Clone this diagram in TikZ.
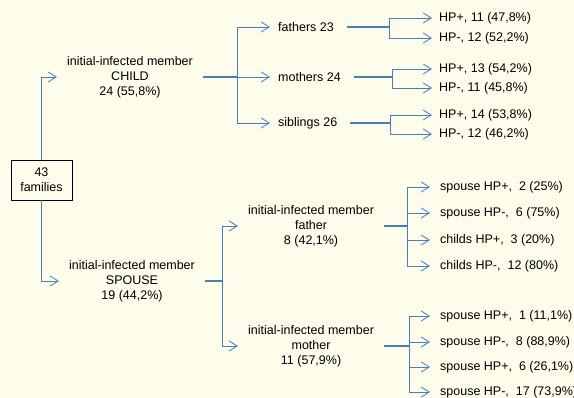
\documentclass[tikz,border=0pt]{standalone}
\usepackage{fontspec}
\setmainfont{Liberation Sans}
\usetikzlibrary{positioning,arrows.meta}

\definecolor{paper}{RGB}{254,252,235}
\definecolor{linkblue}{RGB}{74,126,187}

\begin{document}
\begin{tikzpicture}[x=1pt,y=-1pt,
  font=\fontsize{12.5}{15}\selectfont,
  famsbox/.style={draw=black, line width=0.8pt, minimum width=61pt, minimum height=40pt, align=center, inner sep=0pt},
  midtext/.style={align=center, inner xsep=10pt, inner ysep=1pt},
  leaftext/.style={anchor=west, inner xsep=8pt, inner ysep=1pt},
  stub/.style={draw=linkblue, line width=1.6pt},
  link/.style={draw=linkblue, line width=0.8pt, -{Straight Barb[length=8pt,width=10pt]}}]

\useasboundingbox[fill=paper] (0,0) rectangle (574,398);

\def\xj{237}
\def\xk{432}
\def\xl{430}

% root and first level
\node[famsbox] (fam) at (41.5,180) {43\\families};
\node[midtext] (child) at (130,77) {initial-infected member\\CHILD\\24 (55,8\%)};
\node[midtext] (spouse) at (132,281) {initial-infected member\\SPOUSE\\19 (44,2\%)};

\draw[link] (fam.north) |- (child.west);
\draw[link] (fam.south) |- (spouse.west);

% child branch
\node[leaftext] (fathers) at (270,27) {fathers 23};
\node[leaftext] (mothers) at (270,77) {mothers 24};
\node[leaftext] (siblings) at (270,123) {siblings 26};

\coordinate (cj) at (\xj,77);
\draw[stub] (child.east) -- (cj);
\foreach \n in {fathers,mothers,siblings}
  \draw[link] (cj) |- (\n.west);

\node[leaftext, inner xsep=7pt] (fhpp) at (\xk,18) {HP+, 11 (47,8\%)};
\node[leaftext, inner xsep=7pt] (fhpm) at (\xk,38) {HP-, 12 (52,2\%)};
\node[leaftext, inner xsep=7pt] (mhpp) at (\xk,69) {HP+, 13 (54,2\%)};
\node[leaftext, inner xsep=7pt] (mhpm) at (\xk,88) {HP-, 11 (45,8\%)};
\node[leaftext, inner xsep=7pt] (shpp) at (\xk,115) {HP+, 14 (53,8\%)};
\node[leaftext, inner xsep=7pt] (shpm) at (\xk,134) {HP-, 12 (46,2\%)};

\coordinate (fj) at (389,27);
\coordinate (mj) at (392,77);
\coordinate (sj) at (390,123);
\draw[stub, shorten <=5pt] (fathers.east) -- (fj);
\draw[stub, shorten <=5pt] (mothers.east) -- (mj);
\draw[stub, shorten <=5pt] (siblings.east) -- (sj);
\draw[link] (fj) |- (fhpp.west);
\draw[link] (fj) |- (fhpm.west);
\draw[link] (mj) |- (mhpp.west);
\draw[link] (mj) |- (mhpm.west);
\draw[link] (sj) |- (shpp.west);
\draw[link] (sj) |- (shpm.west);

% spouse branch
\node[midtext, anchor=west] (father) at (238,226) {initial-infected member\\father\\8 (42,1\%)};
\node[midtext, anchor=west] (mother) at (238,346) {initial-infected member\\mother\\11 (57,9\%)};

\coordinate (pj) at (222,281);
\draw[stub] (spouse.east) -- (pj);
\draw[link] (pj) |- (father.west);
\draw[link] (pj) |- (mother.west);

\node[leaftext, inner xsep=10pt] (fa1) at (\xl,187) {spouse HP+, \ 2 (25\%)};
\node[leaftext, inner xsep=10pt] (fa2) at (\xl,213) {spouse HP-, \ 6 (75\%)};
\node[leaftext, inner xsep=10pt] (fa3) at (\xl,240) {childs HP+, \ 3 (20\%)};
\node[leaftext, inner xsep=10pt] (fa4) at (\xl,266) {childs HP-, \ 12 (80\%)};
\node[leaftext, inner xsep=10pt] (mo1) at (\xl,316) {spouse HP+, \ 1 (11,1\%)};
\node[leaftext, inner xsep=10pt] (mo2) at (\xl,342) {spouse HP-, \ 8 (88,9\%)};
\node[leaftext, inner xsep=10pt] (mo3) at (\xl,367) {spouse HP+, \ 6 (26,1\%)};
\node[leaftext, inner xsep=10pt] (mo4) at (\xl,392) {spouse HP-, \ 17 (73,9\%)};

\coordinate (faj) at (407,226);
\coordinate (moj) at (409,346);
\draw[stub] (father.east) -- (faj);
\draw[stub] (mother.east) -- (moj);
\foreach \n in {fa1,fa2,fa3,fa4}
  \draw[link] (faj) |- (\n.west);
\foreach \n in {mo1,mo2,mo3,mo4}
  \draw[link] (moj) |- (\n.west);

\end{tikzpicture}
\end{document}
